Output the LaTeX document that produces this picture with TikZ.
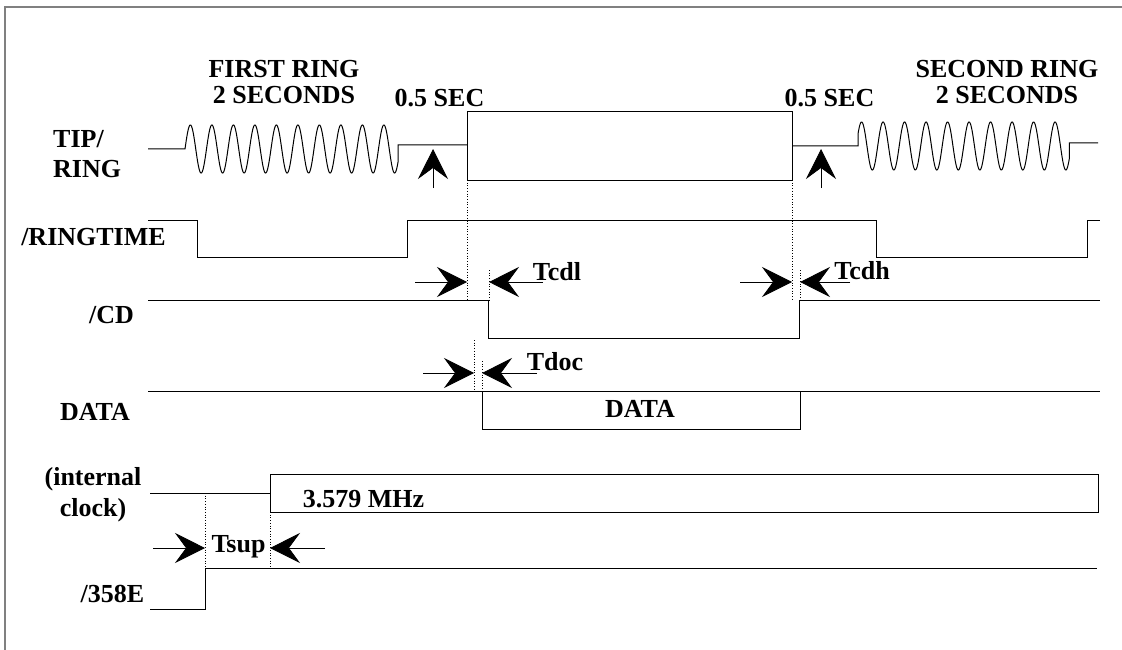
\documentclass[tikz,border=0pt]{standalone}
\usepackage{fontspec}
\setmainfont{Liberation Serif}
\usetikzlibrary{arrows.meta}
\begin{document}
\begin{tikzpicture}[x=1pt,y=-1pt,
  sig/.style={line width=1pt, line join=miter},
  dots/.style={line width=0.7pt, dotted},
  lbl/.style={font=\fontsize{26}{30}\selectfont\bfseries, inner sep=0pt},
  ringlbl/.style={lbl, align=center, font=\fontsize{26}{26}\selectfont\bfseries},
  dimarrow/.style={line width=0.8pt, -{Stealth[length=30pt,width=30pt,inset=11pt]}},
]
\useasboundingbox (0,0) rectangle (1122,650);
% frame
\draw[gray, line width=1.5pt] (5,650) -- (5,7) -- (1122,7);

% labels
\node[ringlbl] (first) at (284,82) {FIRST RING\\2 SECONDS};
\node[ringlbl] (second) at (1007,82.5) {SECOND RING\\2 SECONDS};
\node[lbl, anchor=base] (sec1) at (439.5,107) {0.5 SEC};
\node[lbl, anchor=base] (sec2) at (829.5,107) {0.5 SEC};
\node[lbl, align=left, anchor=west] (tip) at (53,154) {TIP/\\RING};
\node[lbl, anchor=base] (rt) at (93.5,245) {/RINGTIME};
\node[lbl, anchor=base] (cd) at (111.5,323) {/CD};
\node[lbl, anchor=base] (data) at (95,420) {DATA};
\node[lbl, align=center, font=\fontsize{26}{31}\selectfont\bfseries] (clk) at (93,495) {(internal\\clock)};
\node[lbl, anchor=base] (e358) at (112.5,602) {/358E};
\node[lbl, anchor=base] (tcdl) at (557,280) {Tcdl};
\node[lbl, anchor=base] (tcdh) at (862,279) {Tcdh};
\node[lbl, anchor=base] (tdoc) at (555,370) {Tdoc};
\node[lbl, anchor=base] (datain) at (640,417) {DATA};
\node[lbl, anchor=base] (mhz) at (363.5,507) {3.579 MHz};
\node[lbl, anchor=base] (tsup) at (238.5,552) {Tsup};

% TIP/RING
\draw[sig] (148,149) -- (185,149) -- plot[domain=0:9.9167, samples=500, variable=\t] ({185+21.5*\t},{149-24*sin(360*\t)}) -- (398.2,145) -- (467,145);
\draw[sig] (467,112) rectangle (792,180);
\draw[sig] (792,146) -- (858,146) -- (858,134) -- plot[domain=0:9.8333, samples=500, variable=\t] ({858+21.5*\t},{146-24*sin(30+360*\t)}) -- (1069.4,143) -- (1098,143);

% up arrows
\coordinate (ua1) at (433,188); \coordinate (ub1) at (433,149);
\coordinate (ua2) at (821,188); \coordinate (ub2) at (821,149);
\draw[dimarrow] (ua1) -- (ub1);
\draw[dimarrow] (ua2) -- (ub2);

% /RINGTIME
\draw[sig] (148,220) -- (197,220) -- (197,257) -- (407,257) -- (407,220) -- (876,220) -- (876,257) -- (1087,257) -- (1087,220) -- (1100,220);

% /CD
\draw[sig] (148,300) -- (488,300) -- (488,338) -- (799,338) -- (799,300) -- (1100,300);

% DATA
\draw[sig] (148,391) -- (1100,391);
\draw[sig] (482,391) -- (482,429) -- (800,429) -- (800,391);

% clock
\draw[sig] (150,493) -- (270,493);
\draw[sig] (270,474) rectangle (1098,512);

% /358E
\draw[sig] (150,609) -- (205,609) -- (205,568) -- (1097,568);

% dotted guides
\draw[dots] (467,180) -- (467,300);
\draw[dots] (792,180) -- (792,300);
\draw[dots] (489,270) -- (489,300);
\draw[dots] (800,270) -- (800,300);
\draw[dots] (474,340) -- (474,390);
\draw[dots] (482,361) -- (482,390);
\draw[dots] (205,493) -- (205,568);
\draw[dots] (270,512) -- (270,567);

% timing arrows
\coordinate (l1a) at (415,282); \coordinate (l1b) at (467,282);
\coordinate (l2a) at (543,282); \coordinate (l2b) at (489,282);
\coordinate (h1a) at (740,282); \coordinate (h1b) at (792,282);
\coordinate (h2a) at (850,282); \coordinate (h2b) at (800,282);
\coordinate (d1a) at (423,373); \coordinate (d1b) at (474,373);
\coordinate (d2a) at (537,373); \coordinate (d2b) at (482,373);
\coordinate (s1a) at (153,548); \coordinate (s1b) at (205,548);
\coordinate (s2a) at (325,548); \coordinate (s2b) at (270,548);
\draw[dimarrow] (l1a) -- (l1b);
\draw[dimarrow] (l2a) -- (l2b);
\draw[dimarrow] (h1a) -- (h1b);
\draw[dimarrow] (h2a) -- (h2b);
\draw[dimarrow] (d1a) -- (d1b);
\draw[dimarrow] (d2a) -- (d2b);
\draw[dimarrow] (s1a) -- (s1b);
\draw[dimarrow] (s2a) -- (s2b);
\end{tikzpicture}
\end{document}
